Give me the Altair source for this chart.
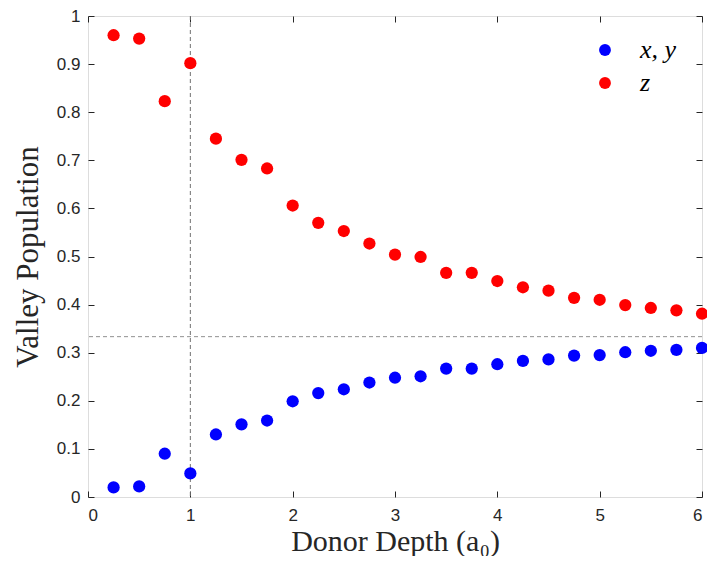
import altair as alt
import pandas as pd

depth = [0.25, 0.5, 0.75, 1.0, 1.25, 1.5, 1.75, 2.0, 2.25, 2.5, 2.75, 3.0,
         3.25, 3.5, 3.75, 4.0, 4.25, 4.5, 4.75, 5.0, 5.25, 5.5, 5.75, 6.0]
pop_z = [0.960, 0.953, 0.823, 0.902, 0.745, 0.701, 0.683, 0.606, 0.570, 0.553,
         0.527, 0.504, 0.499, 0.466, 0.466, 0.449, 0.436, 0.429, 0.414, 0.410,
         0.399, 0.393, 0.388, 0.381]
pop_xy = [0.020, 0.022, 0.090, 0.049, 0.130, 0.151, 0.159, 0.199, 0.216, 0.224,
          0.238, 0.248, 0.251, 0.267, 0.267, 0.276, 0.283, 0.286, 0.294, 0.295,
          0.301, 0.304, 0.306, 0.310]
series_names = ["x, y", "z"]
series_colors = ["#0000ff", "#ff0000"]
x_ticks = [0, 1, 2, 3, 4, 5, 6]
y_ticks = [0, 0.1, 0.2, 0.3, 0.4, 0.5, 0.6, 0.7, 0.8, 0.9, 1]
vline_x = [1.0]
hline_y = [1 / 3]

df = pd.DataFrame({
    "depth": depth + depth,
    "pop": pop_xy + pop_z,
    "series": [series_names[0]] * len(depth) + [series_names[1]] * len(depth),
})

AX = "#262626"
xscale = alt.Scale(domain=[0, 6], nice=False, zero=False)
yscale = alt.Scale(domain=[0, 1], nice=False, zero=False)

common_axis = dict(domain=False, grid=False, tickSize=6, offset=-6,
                   tickColor=AX, tickWidth=1, labelColor=AX,
                   labelFont="Liberation Sans", labelFontSize=17,
                   titleColor=AX, titleFont="Liberation Serif",
                   titleFontWeight="normal")

points = alt.Chart(df).mark_circle(size=150, opacity=1).encode(
    x=alt.X("depth:Q", scale=xscale,
            axis=alt.Axis(values=x_ticks, title="Donor Depth (a₀)", orient="bottom",
                          labelPadding=10, titleFontSize=30,
                          titleBaseline="alphabetic", titleY=59,
                          **common_axis)),
    y=alt.Y("pop:Q", scale=yscale,
            axis=alt.Axis(values=y_ticks, format="~g", title="Valley Population",
                          orient="left", labelPadding=8, titlePadding=12,
                          titleFontSize=31, **common_axis)),
    color=alt.Color("series:N",
                    scale=alt.Scale(domain=series_names, range=series_colors),
                    legend=alt.Legend(title=None, orient="none", legendX=504, legendY=21,
                                      symbolType="circle", symbolSize=140,
                                      symbolStrokeWidth=0, labelFont="Liberation Serif",
                                      labelFontStyle="italic", labelFontSize=26,
                                      labelColor="#000000", labelOffset=22,
                                      rowPadding=7, padding=0)),
)

frame_axes = alt.Chart(df).mark_circle(opacity=0).encode(
    x=alt.X("depth:Q", scale=xscale,
            axis=alt.Axis(values=x_ticks, labels=False, title=None, orient="top",
                          **common_axis)),
    y=alt.Y("pop:Q", scale=yscale,
            axis=alt.Axis(values=y_ticks, labels=False, title=None, orient="right",
                          **common_axis)),
)

vrule = alt.Chart(pd.DataFrame({"x": vline_x})).mark_rule(
    color="#707070", strokeDash=[4, 3], strokeWidth=1).encode(
    x=alt.X("x:Q", scale=xscale, axis=None))
hrule = alt.Chart(pd.DataFrame({"y": hline_y})).mark_rule(
    color="#909090", strokeDash=[4, 3], strokeWidth=1).encode(
    y=alt.Y("y:Q", scale=yscale, axis=None))

chart = alt.layer(vrule, hrule, points, frame_axes).resolve_axis(
    x="independent", y="independent"
).properties(
    width=614, height=481,
    autosize=alt.AutoSizeParams(type="none"),
    padding={"left": 80, "top": 8, "right": 5, "bottom": 59},
).configure_view(stroke=AX, strokeWidth=1.2).configure(background="white")

chart.save("out.html", embed_options={"renderer": "svg", "actions": False})
